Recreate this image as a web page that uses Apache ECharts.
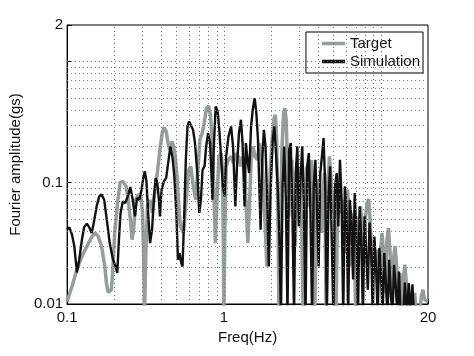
<!DOCTYPE html>
<html>
<head>
<meta charset="utf-8">
<script src="https://cdn.jsdelivr.net/npm/echarts@6/dist/echarts.min.js"></script>
<style>
html,body{margin:0;padding:0;background:#fff;}
#chart{width:474px;height:356px;}
</style>
</head>
<body>
<div id="chart"></div>
<script>
// ---- Data ----
const targetFreq = [0.100,0.1075,0.1155,0.1243,0.1336,0.1435,0.1506,0.1580,0.1658,0.1740,0.1782,0.1826,0.1916,0.1962,0.2010,0.2109,0.2182,0.2267,0.2379,0.2437,0.2533,0.2595,0.2658,0.2736,0.2843,0.2955,0.3027,0.3071,0.3116,0.3176,0.3254,0.3365,0.3497,0.3618,0.3759,0.3907,0.4041,0.4159,0.4281,0.4406,0.4514,0.4669,0.4783,0.4899,0.5019,0.5141,0.5266,0.5526,0.5743,0.5968,0.6143,0.6384,0.6603,0.6796,0.7030,0.7271,0.7484,0.7740,0.7967,0.8201,0.8441,0.8646,0.8814,0.9030,0.9294,0.9613,0.9800,0.9895,0.999,1.0136,1.0333,1.0688,1.1107,1.1488,1.1938,1.2347,1.2770,1.3145,1.3530,1.3860,1.4197,1.4543,1.4897,1.5333,1.5784,1.6324,1.6885,1.7378,1.7887,1.8324,1.8770,1.9226,1.9695,2.0273,2.0867,2.1273,2.1686,2.2108,2.2430,2.2866,2.3423,2.3994,2.4460,2.4936,2.5420,2.5915,2.6419,2.7062,2.7722,2.8397,2.9089,2.9798,3.0524,3.1267,3.2029,3.2810,3.3609,3.4428,3.5267,3.6126,3.7006,3.7908,3.8831,3.9777,4.0747,4.1739,4.2756,4.3798,4.4865,4.5958,4.7078,4.8225,4.9400,5.0603,5.1836,5.3099,5.4393,5.5718,5.7076,5.8466,5.9891,6.1350,6.2845,6.4376,6.5944,6.7551,6.9197,7.0883,7.2610,7.4379,7.6191,7.8047,7.9949,8.1897,8.3892,8.5936,8.8030,9.0174,9.2371,9.4622,9.6927,9.9289,10.171,10.418,10.672,10.932,11.199,11.471,11.751,12.037,12.331,12.631,12.939,13.254,13.577,13.908,14.247,14.594,14.949,15.687,16.460,16.861,17.693,18.124,18.565,19.017,19.955];
const targetAmp = [0.0105,0.0140,0.0192,0.0247,0.0299,0.0357,0.0385,0.0361,0.0299,0.0204,0.0149,0.0125,0.0131,0.0204,0.0385,0.0724,0.1007,0.1026,0.0933,0.0772,0.0496,0.0339,0.0410,0.0724,0.0800,0.0772,0.0563,0.0281,0.008,0.0263,0.0638,0.0724,0.0563,0.0822,0.1202,0.1871,0.2567,0.2860,0.2650,0.2123,0.1871,0.2192,0.1993,0.1649,0.1128,0.0680,0.0437,0.0385,0.0724,0.1280,0.1364,0.0933,0.0724,0.1202,0.2262,0.2567,0.3104,0.4124,0.4313,0.3635,0.2123,0.0724,0.0318,0.0724,0.1649,0.1756,0.1202,0.0385,0.008,0.0385,0.1364,0.1548,0.1649,0.1453,0.1756,0.1649,0.1364,0.1649,0.1202,0.0638,0.0318,0.0638,0.1548,0.1993,0.1649,0.1548,0.2123,0.1649,0.0933,0.0437,0.0204,0.0385,0.1202,0.2262,0.3412,0.3635,0.2262,0.0528,0.008,0.0385,0.1871,0.3752,0.4124,0.3306,0.1364,0.0528,0.0994,0.1548,0.0638,0.0299,0.0724,0.1364,0.0933,0.0437,0.008,0.0724,0.1364,0.0933,0.0638,0.1548,0.0933,0.008,0.0528,0.1059,0.0724,0.0385,0.0822,0.1202,0.008,0.0933,0.1649,0.1059,0.0563,0.0822,0.008,0.0638,0.0933,0.0563,0.0724,0.0263,0.0638,0.0876,0.0528,0.0204,0.0563,0.0437,0.008,0.0528,0.0339,0.0638,0.0385,0.0218,0.0528,0.0680,0.0734,0.0437,0.0204,0.0339,0.0180,0.0281,0.0149,0.0247,0.0385,0.0263,0.0123,0.0339,0.0423,0.0263,0.0109,0.0232,0.0299,0.0204,0.0123,0.0180,0.008,0.0159,0.0211,0.0140,0.008,0.0109,0.0123,0.008,0.008,0.0116,0.0131,0.0109,0.0105];

const simFreq = [0.100,0.1034,0.1075,0.1112,0.1155,0.1195,0.1243,0.1285,0.1336,0.1381,0.1435,0.1492,0.1543,0.1603,0.1658,0.1723,0.1791,0.1870,0.1962,0.2039,0.2089,0.2140,0.2192,0.2267,0.2345,0.2437,0.2533,0.2620,0.2710,0.2789,0.2885,0.2984,0.3071,0.3131,0.3207,0.3285,0.3381,0.3481,0.3583,0.3670,0.3759,0.3851,0.3907,0.4002,0.4139,0.4281,0.4407,0.4558,0.4691,0.4829,0.4971,0.5092,0.5216,0.5342,0.5446,0.5579,0.5715,0.5854,0.5997,0.6172,0.6354,0.6540,0.6764,0.6962,0.7131,0.7305,0.7520,0.7703,0.7929,0.8161,0.8320,0.8441,0.8604,0.8857,0.9117,0.9339,0.9613,0.9847,1.0087,1.0333,1.0687,1.1107,1.1431,1.1824,1.2111,1.2466,1.2832,1.3145,1.3530,1.3793,1.4129,1.4473,1.4897,1.5259,1.5708,1.6092,1.6483,1.6803,1.7129,1.7547,1.7974,1.8412,1.8861,1.9320,1.9887,2.0470,2.0970,2.1479,2.2003,2.2538,2.3087,2.3651,2.4228,2.4815,2.5420,2.6041,2.6675,2.7325,2.7992,2.8672,2.9370,3.0089,3.0821,3.1570,3.2340,3.3129,3.3935,3.4761,3.5608,3.6476,3.7364,3.8274,3.9205,4.0160,4.1139,4.2142,4.3170,4.4222,4.5300,4.6402,4.7533,4.8690,4.9878,5.1094,5.2337,5.3613,5.4920,5.6257,5.7630,5.9033,6.0473,6.1947,6.3453,6.5000,6.6584,6.8206,6.9868,7.1570,7.3314,7.5100,7.6930,7.8804,8.0724,8.2691,8.4706,8.6770,8.8884,9.1049,9.3268,9.5540,9.7868,10.025,10.270,10.520,10.776,11.039,11.308,11.583,11.865,12.154,12.450,12.754,13.064,13.382,13.908,14.247,14.594,15.095,15.463,15.915,16.302];
const simAmp = [0.0410,0.0428,0.0373,0.0299,0.0182,0.0232,0.0339,0.0431,0.0459,0.0431,0.0385,0.0496,0.0638,0.0772,0.0800,0.0724,0.0496,0.0318,0.0232,0.0204,0.0180,0.0339,0.0563,0.0702,0.0680,0.0772,0.0921,0.0724,0.0528,0.0748,0.0724,0.0876,0.1128,0.1240,0.1026,0.0563,0.0318,0.0410,0.0772,0.1093,0.0994,0.0724,0.0528,0.0876,0.1026,0.1093,0.1453,0.1993,0.1649,0.1128,0.0563,0.0232,0.0263,0.0218,0.0204,0.0528,0.1548,0.2913,0.3204,0.3262,0.2735,0.2123,0.1202,0.0563,0.0724,0.1280,0.1364,0.1993,0.2567,0.2123,0.1202,0.0724,0.1871,0.4258,0.3872,0.2735,0.1548,0.0933,0.0772,0.1649,0.2410,0.2913,0.1993,0.0638,0.1364,0.2567,0.3306,0.2123,0.0638,0.2123,0.1548,0.1202,0.2913,0.3997,0.4988,0.3752,0.2262,0.0933,0.0410,0.1548,0.2735,0.1993,0.0724,0.0204,0.0933,0.2262,0.2913,0.1756,0.0933,0.0385,0.008,0.0933,0.1993,0.0724,0.008,0.1871,0.2123,0.0563,0.008,0.1202,0.1993,0.0437,0.1128,0.1993,0.0638,0.008,0.1364,0.1756,0.0563,0.008,0.0933,0.1548,0.0638,0.0204,0.1202,0.1649,0.2336,0.0933,0.008,0.0772,0.1364,0.0339,0.008,0.0933,0.1202,0.0437,0.1548,0.0724,0.008,0.0933,0.0563,0.008,0.0724,0.0496,0.0159,0.0822,0.0385,0.008,0.0638,0.0339,0.008,0.0528,0.0263,0.0131,0.0470,0.0299,0.008,0.0360,0.0204,0.008,0.0290,0.0180,0.008,0.0263,0.0149,0.008,0.0232,0.0123,0.008,0.0210,0.0140,0.008,0.0185,0.008,0.008,0.0150,0.008,0.0149,0.008,0.0145,0.008];

const xTickValues = [0.1, 1, 20];
const yTickValues = [0.01, 0.1, 2];
const xGridValues = [0.2,0.3,0.4,0.5,0.6,0.7,0.8,0.9,1,2,3,4,5,6,7,8,9,10];
const yGridValues = [0.02,0.03,0.04,0.05,0.06,0.07,0.08,0.09,0.1,0.2,0.3,0.4,0.5,0.6,0.7,0.8,0.9,1];

const FONT = 'Liberation Sans, Arial, Helvetica, sans-serif';
const GRAY = '#959e9c';
const BLACK = '#111111';

function zip(a, b) { return a.map((v, i) => [v, b[i]]); }
function labelFor(ticks) {
  return function (v) {
    for (const t of ticks) { if (Math.abs(v - t) / t < 1e-6) return String(t); }
    return '';
  };
}

const chart = echarts.init(document.getElementById('chart'), null, {renderer: 'canvas'});
chart.setOption({
  animation: false,
  backgroundColor: '#ffffff',
  grid: {left: 62, right: 46, top: 25, bottom: 52, show: true, borderColor: '#000', borderWidth: 1, backgroundColor: '#fff'},
  legend: {
    orient: 'vertical', right: 51, top: 32, align: 'left',
    padding: [4, 3, 4, 16], itemGap: 3, itemWidth: 23, itemHeight: 3.5, icon: 'rect',
    borderColor: '#000', borderWidth: 1, borderRadius: 0, backgroundColor: '#fff',
    textStyle: {fontSize: 15, color: '#111', fontFamily: FONT},
    data: ['Target', 'Simulation']
  },
  xAxis: {
    type: 'log', logBase: 10, min: 0.1, max: 20,
    name: 'Freq(Hz)', nameLocation: 'middle', nameGap: 22,
    nameTextStyle: {fontSize: 15, color: '#111', fontFamily: FONT},
    axisLine: {show: true, lineStyle: {color: '#000', width: 1}},
    axisTick: {show: true, inside: true, length: 5, lineStyle: {color: '#000'}},
    axisLabel: {fontSize: 15, color: '#111', fontFamily: FONT, margin: 6, showMinLabel: true, showMaxLabel: true, formatter: labelFor(xTickValues)},
    splitLine: {show: false}
  },
  yAxis: {
    type: 'log', logBase: 10, min: 0.01, max: 2,
    name: 'Fourier amplitude(gs)', nameLocation: 'middle', nameGap: 41,
    nameTextStyle: {fontSize: 15, color: '#111', fontFamily: FONT},
    axisLine: {show: true, lineStyle: {color: '#000', width: 1}},
    axisTick: {show: true, inside: true, length: 5, lineStyle: {color: '#000'}},
    axisLabel: {fontSize: 15, color: '#111', fontFamily: FONT, margin: 4, showMinLabel: true, showMaxLabel: true, formatter: labelFor(yTickValues)},
    splitLine: {show: false}
  },
  series: [
    {
      name: 'grid', type: 'line', data: [], z: 1, silent: true,
      markLine: {
        silent: true, symbol: ['none', 'none'], animation: false,
        label: {show: false},
        lineStyle: {type: [1, 3], color: '#777', width: 1},
        data: xGridValues.map(v => ({xAxis: v})).concat(yGridValues.map(v => ({yAxis: v})))
      }
    },
    {
      name: 'Target', type: 'line', data: zip(targetFreq, targetAmp), z: 3,
      showSymbol: false, symbol: 'none', clip: true,
      color: GRAY, itemStyle: {color: GRAY},
      lineStyle: {color: GRAY, width: 3.5}
    },
    {
      name: 'Simulation', type: 'line', data: zip(simFreq, simAmp), z: 4,
      showSymbol: false, symbol: 'none', clip: true,
      color: BLACK, itemStyle: {color: BLACK},
      lineStyle: {color: BLACK, width: 2.4}
    }
  ]
});
</script>
</body>
</html>
